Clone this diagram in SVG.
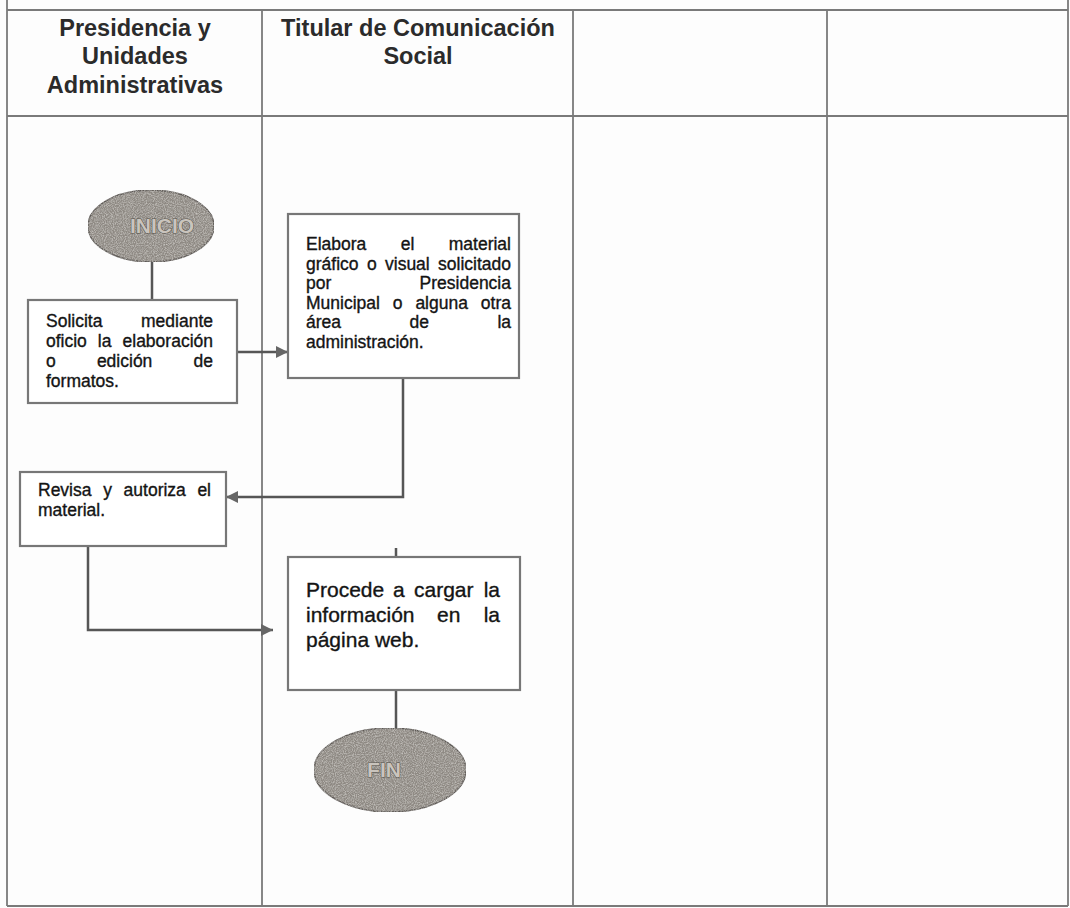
<svg xmlns="http://www.w3.org/2000/svg" width="1070" height="908" viewBox="0 0 1070 908">
  <style>
    .grid { stroke:#7a7a7a; stroke-width:1.8; fill:none; }
    .box { fill:#ffffff; stroke:#777777; stroke-width:2.2; }
    .conn { stroke:#565656; stroke-width:2.5; fill:none; }
    .hdr { font-family:"Liberation Sans", Arial, sans-serif; font-weight:bold; font-size:23.5px; fill:#2b2b2b; text-anchor:middle; }
    .t { font-family:"Liberation Sans", Arial, sans-serif; font-size:17.5px; fill:#141414; stroke:#141414; stroke-width:0.35; }
    .tb { font-family:"Liberation Sans", Arial, sans-serif; font-size:21px; fill:#141414; stroke:#141414; stroke-width:0.35; }
    .e { text-anchor:end; }
    .term { fill:#8e8983; stroke:#5d5955; stroke-width:1.5; }
    .termtxt { font-family:"Liberation Sans", Arial, sans-serif; font-weight:bold; font-size:21px; fill:#c9c4bd; stroke:#55514b; stroke-width:1; paint-order:stroke; text-anchor:middle; }
  </style>
  <defs>
    <marker id="arrow" viewBox="0 0 10 10" refX="10" refY="5" markerUnits="userSpaceOnUse" markerWidth="14" markerHeight="12" orient="auto">
      <path d="M0,0 L10,5 L0,10 z" fill="#666666"/>
    </marker>
    <filter id="grain" x="0" y="0" width="100%" height="100%">
      <feTurbulence type="fractalNoise" baseFrequency="0.9" numOctaves="2" seed="3" result="n"/>
      <feColorMatrix in="n" type="matrix" values="0 0 0 0 0.75  0 0 0 0 0.73  0 0 0 0 0.70  0 0 0 1.2 -0.45" result="g"/>
      <feComposite in="g" in2="SourceGraphic" operator="in" result="gi"/>
      <feMerge><feMergeNode in="SourceGraphic"/><feMergeNode in="gi"/></feMerge>
    </filter>
  </defs>
  <rect x="0" y="0" width="1070" height="908" fill="#fdfdfd"/>

  <g id="table">
    <line class="grid" x1="7" y1="0" x2="7" y2="906"/>
    <line class="grid" x1="1068" y1="0" x2="1068" y2="906"/>
    <line class="grid" x1="7" y1="10" x2="1068" y2="10"/>
    <line class="grid" x1="7" y1="116" x2="1068" y2="116"/>
    <line class="grid" x1="7" y1="906" x2="1068" y2="906"/>
    <line class="grid" x1="262" y1="10" x2="262" y2="906"/>
    <line class="grid" x1="573" y1="10" x2="573" y2="906"/>
    <line class="grid" x1="827" y1="10" x2="827" y2="906"/>
  </g>

  <g id="headers">
    <text class="hdr" x="135" y="36">Presidencia y</text>
    <text class="hdr" x="135" y="64">Unidades</text>
    <text class="hdr" x="135" y="93">Administrativas</text>
    <text class="hdr" x="418" y="36">Titular de Comunicación</text>
    <text class="hdr" x="418" y="64">Social</text>
  </g>

  <g id="connectors">
    <line class="conn" x1="152" y1="261" x2="152" y2="300"/>
    <line class="conn" x1="237" y1="352" x2="288" y2="352" marker-end="url(#arrow)"/>
    <polyline class="conn" points="403,378 403,497 226,497" marker-end="url(#arrow)"/>
    <polyline class="conn" points="88,546 88,630 273,630" marker-end="url(#arrow)"/>
    <line class="conn" x1="396" y1="548" x2="396" y2="557"/>
    <line class="conn" x1="396" y1="690" x2="396" y2="728"/>
  </g>

  <g id="inicio">
    <ellipse class="term" cx="151" cy="226" rx="63" ry="36" filter="url(#grain)"/>
    <text class="termtxt" x="162" y="233">INICIO</text>
  </g>

  <g id="solicita">
    <rect class="box" x="28" y="300" width="209" height="103"/>
    <text class="t" x="46" y="327">Solicita</text>
    <text class="t e" x="213" y="327">mediante</text>
    <text class="t" x="46" y="347">oficio</text>
    <text class="t" x="97.8" y="347">la</text>
    <text class="t e" x="213" y="347">elaboración</text>
    <text class="t" x="46" y="367">o</text>
    <text class="t" x="96.9" y="367">edición</text>
    <text class="t e" x="213" y="367">de</text>
    <text class="t" x="46" y="387">formatos.</text>
  </g>

  <g id="elabora">
    <rect class="box" x="288" y="214" width="231" height="164"/>
    <text class="t" x="306" y="250">Elabora</text>
    <text class="t" x="400.7" y="250">el</text>
    <text class="t e" x="511" y="250">material</text>
    <text class="t" x="306" y="269.5">gráfico</text>
    <text class="t" x="366.9" y="269.5">o</text>
    <text class="t" x="385" y="269.5">visual</text>
    <text class="t e" x="511" y="269.5">solicitado</text>
    <text class="t" x="306" y="289">por</text>
    <text class="t e" x="511" y="289">Presidencia</text>
    <text class="t" x="306" y="308.5">Municipal</text>
    <text class="t" x="392.8" y="308.5">o</text>
    <text class="t" x="415.4" y="308.5">alguna</text>
    <text class="t e" x="511" y="308.5">otra</text>
    <text class="t" x="306" y="328">área</text>
    <text class="t" x="409.5" y="328">de</text>
    <text class="t e" x="511" y="328">la</text>
    <text class="t" x="306" y="347.5">administración.</text>
  </g>

  <g id="revisa">
    <rect class="box" x="20" y="472" width="206" height="74"/>
    <text class="t" x="38" y="496">Revisa</text>
    <text class="t" x="103.2" y="496">y</text>
    <text class="t" x="123.6" y="496">autoriza</text>
    <text class="t e" x="211" y="496">el</text>
    <text class="t" x="38" y="516">material.</text>
  </g>

  <g id="procede">
    <rect class="box" x="288" y="557" width="232" height="133"/>
    <text class="tb" x="306" y="597">Procede</text>
    <text class="tb" x="393" y="597">a</text>
    <text class="tb" x="414" y="597">cargar</text>
    <text class="tb e" x="500" y="597">la</text>
    <text class="tb" x="306" y="622">información</text>
    <text class="tb" x="437" y="622">en</text>
    <text class="tb e" x="500" y="622">la</text>
    <text class="tb" x="306" y="647">página web.</text>
  </g>

  <g id="fin">
    <ellipse class="term" cx="390" cy="770" rx="76" ry="42" filter="url(#grain)"/>
    <text class="termtxt" x="384" y="777">FIN</text>
  </g>
</svg>
